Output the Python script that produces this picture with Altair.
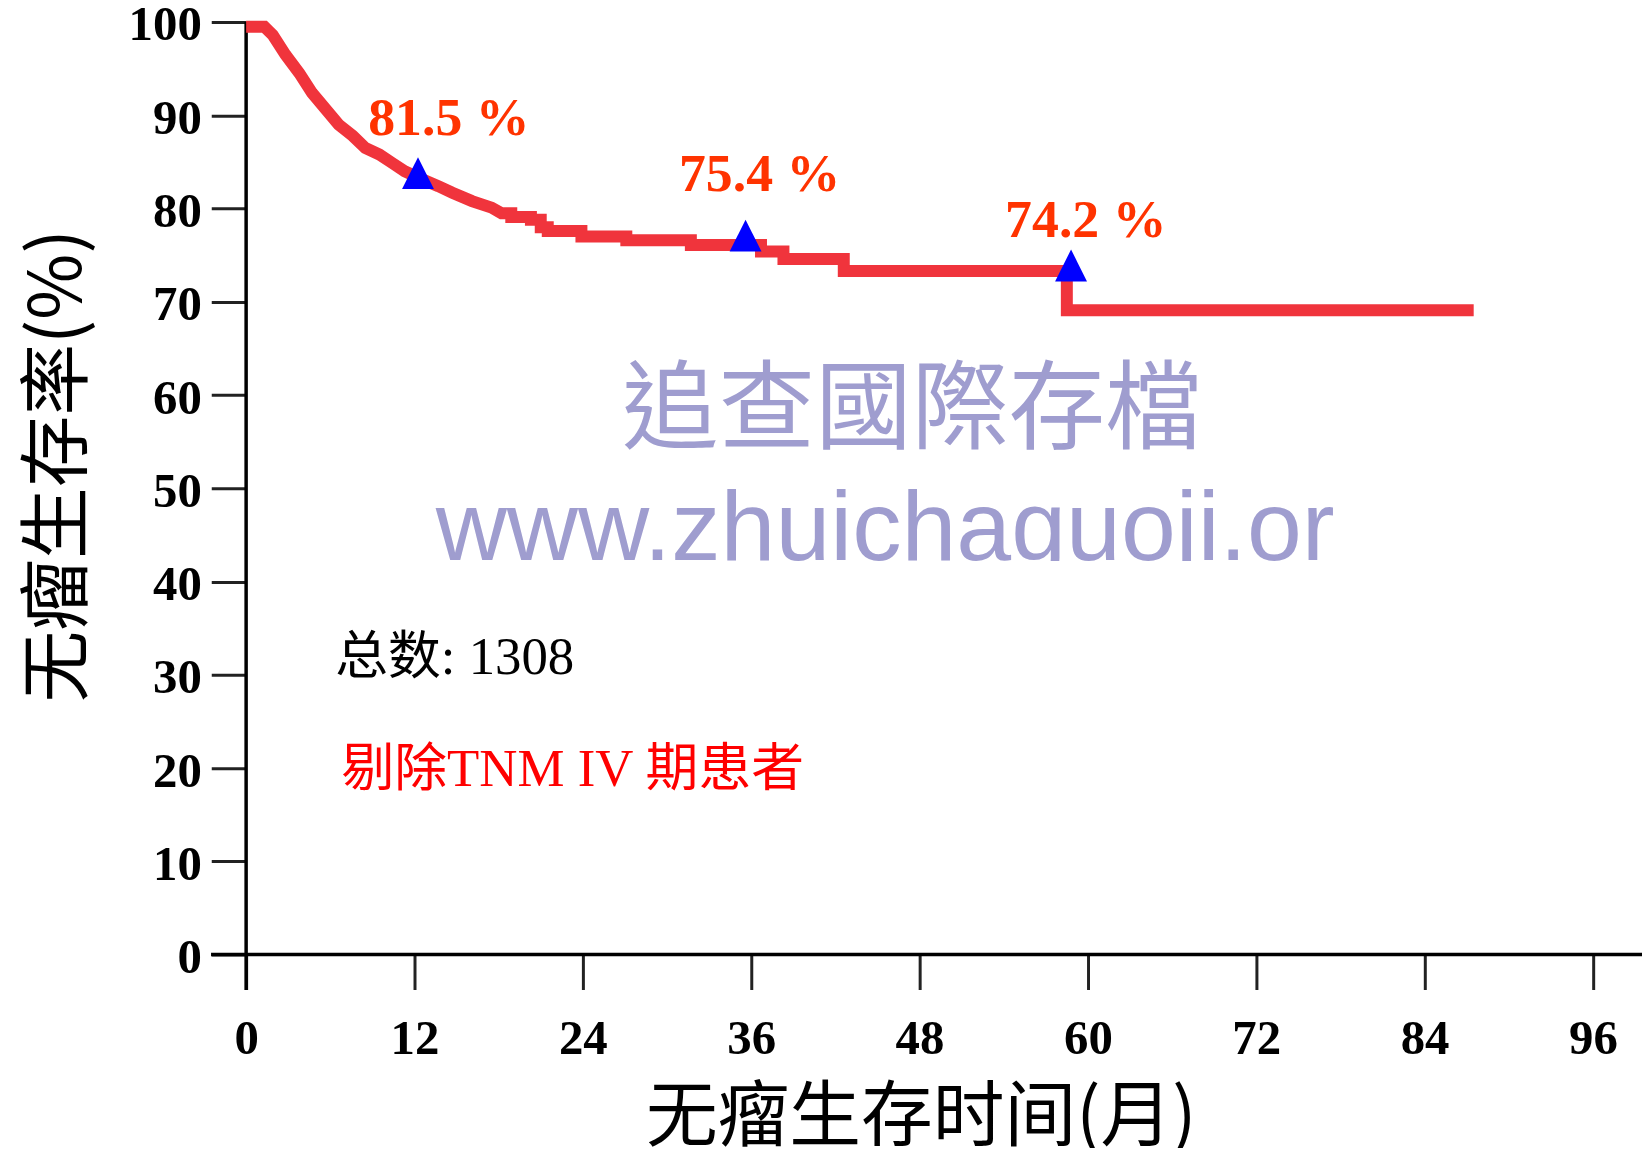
import altair as alt
import pandas as pd

# ---- Kaplan-Meier curve (months, survival %) ----
curve_t = [0, 1.3, 1.9, 2.8, 3.8, 4.7, 5.7, 6.6, 7.6, 8.5, 9.5, 10.4, 11.3, 12.3, 13.7,
           14.7, 16.1, 17.5, 18.2, 18.9, 18.9, 20.3, 20.3, 21.0, 21.0, 21.5, 21.5, 23.9,
           23.9, 27.1, 27.1, 31.7, 31.7, 36.7, 36.7, 38.3, 38.3, 42.6, 42.6, 58.5, 58.5, 87.5]
curve_s = [99.5, 99.5, 98.6, 96.5, 94.5, 92.4, 90.6, 89.0, 87.8, 86.5, 85.8, 84.9, 84.0, 83.3, 82.4,
           81.7, 80.8, 80.1, 79.5, 79.5, 79.1, 79.1, 78.8, 78.8, 78.0, 78.0, 77.6, 77.6,
           77.0, 77.0, 76.6, 76.6, 76.1, 76.1, 75.4, 75.4, 74.6, 74.6, 73.3, 73.3, 69.1, 69.1]

# ---- markers and their labels ----
tri_t = [12.25, 35.6, 58.8]
tri_s = [83.8, 77.1, 73.9]
lab_t = [14.45, 36.6, 59.85]
lab_s = [87.9, 81.9, 77.0]
lab_text = ["81.5 %", "75.4 %", "74.2 %"]

# ---- ticks ----
x_ticks = [0, 12, 24, 36, 48, 60, 72, 84, 96]
y_ticks = [0, 10, 20, 30, 40, 50, 60, 70, 80, 90, 100]

# ---- notes ----
note_text = ["总数: 1308", "剔除TNM IV 期患者"]
note_t = [6.35, 6.8]
note_s = [30.1, 18.1]
note_color = ["#000000", "#FF0000"]

# ---- watermark ----
wm_cjk = ["追查國際存檔"]
wm_cjk_t = [47.45]
wm_cjk_s = [55.1]
wm_url = ["www.zhuichaguoji.or"]
wm_url_t = [45.55]
wm_url_s = [42.3]
# white band that trims the watermark at its baseline (as in the picture)
trim_t, trim_t2, trim_s, trim_s2 = [13.0], [78.5], [42.2], [37.5]

# ---- axis lines (extend past the origin like the original) ----
axl_t = [-2.5, 0]
axl_t2 = [99.5, 0]
axl_s = [0, 100]
axl_s2 = [0, -3.8]

SERIF = "Liberation Serif"
CJK = "Noto Sans CJK SC"
MIX = "Liberation Serif, Noto Sans CJK SC"

x_enc = alt.X(
    "t:Q",
    scale=alt.Scale(domain=[0, 99], nice=False, zero=False),
    axis=alt.Axis(
        values=x_ticks, domain=False, grid=False,
        tickSize=35, tickWidth=3, tickColor="#222222",
        labelFont=SERIF, labelFontWeight="bold", labelFontSize=49, labelColor="black",
        labelPadding=25, labelFlush=False, labelOverlap=False,
        title="无瘤生存时间(月)", titleFont=CJK, titleFontSize=72, titleFontWeight="normal",
        titleColor="black", titleX=677, titleY=186, titleAlign="center",
        titleBaseline="alphabetic", titleAngle=0,
    ),
)
y_enc = alt.Y(
    "s:Q",
    scale=alt.Scale(domain=[0, 100], nice=False, zero=False),
    axis=alt.Axis(
        values=y_ticks, domain=False, grid=False,
        tickSize=35, tickWidth=3, tickColor="#222222",
        labelFont=SERIF, labelFontWeight="bold", labelFontSize=49, labelColor="black",
        labelPadding=10, labelOffset=3, labelFlush=False, labelOverlap=False,
        title="无瘤生存率(%)", titleFont=CJK, titleFontSize=72, titleFontWeight="normal",
        titleColor="black", titleX=-166, titleY=445, titleAlign="center",
        titleBaseline="alphabetic", titleAngle=270,
    ),
)

curve_df = pd.DataFrame({"t": curve_t, "s": curve_s, "i": list(range(len(curve_t)))})
tri_df = pd.DataFrame({"t": tri_t, "s": tri_s})
lab_df = pd.DataFrame({"t": lab_t, "s": lab_s, "txt": lab_text})
note_df = pd.DataFrame({"t": note_t, "s": note_s, "txt": note_text, "c": note_color})
wm1_df = pd.DataFrame({"t": wm_cjk_t, "s": wm_cjk_s, "txt": wm_cjk})
wm2_df = pd.DataFrame({"t": wm_url_t, "s": wm_url_s, "txt": wm_url})
trim_df = pd.DataFrame({"t": trim_t, "t2": trim_t2, "s": trim_s, "s2": trim_s2})
axl_df = pd.DataFrame({"t": axl_t, "t2": axl_t2, "s": axl_s, "s2": axl_s2})

wm1 = alt.Chart(wm1_df).mark_text(
    font="Noto Sans CJK TC", fontSize=97, color="#9F9DCF", align="center", baseline="alphabetic"
).encode(x=x_enc, y=y_enc, text="txt:N")

wm2 = alt.Chart(wm2_df).mark_text(
    font="Liberation Sans", fontSize=99, color="#9F9DCF", align="center", baseline="alphabetic"
).encode(x=x_enc, y=y_enc, text="txt:N")

trim = alt.Chart(trim_df).mark_rect(color="white", opacity=1).encode(
    x=x_enc, x2="t2:Q", y=y_enc, y2="s2:Q"
)

axes_lines = alt.Chart(axl_df).mark_rule(color="black", strokeWidth=3.5).encode(
    x=x_enc, x2="t2:Q", y=y_enc, y2="s2:Q"
)

curve = alt.Chart(curve_df).mark_line(
    color="#F0343C", strokeWidth=12, strokeJoin="miter"
).encode(x=x_enc, y=y_enc, order=alt.Order("i:Q"))

tris = alt.Chart(tri_df).mark_point(
    shape="M0,-1L-1,1L1,1Z", size=1024, filled=True, color="#0000FF", opacity=1, strokeWidth=0
).encode(x=x_enc, y=y_enc)

labels = alt.Chart(lab_df).mark_text(
    font=SERIF, fontWeight="bold", fontSize=54, color="#FF3300", align="center", baseline="alphabetic"
).encode(x=x_enc, y=y_enc, text="txt:N")

notes = alt.Chart(note_df).mark_text(
    font=MIX, fontSize=53, align="left", baseline="alphabetic"
).encode(x=x_enc, y=y_enc, text="txt:N", color=alt.Color("c:N", scale=None))

chart = alt.layer(wm1, wm2, trim, axes_lines, curve, tris, labels, notes).properties(
    width=1394,
    height=936,
    autosize=alt.AutoSizeParams(type="none"),
    padding={"left": 239, "top": 12, "right": 7, "bottom": 192},
).configure(background="white", view=alt.ViewConfig(stroke=None))

chart.save("out.html", embed_options={"renderer": "svg", "actions": False})
